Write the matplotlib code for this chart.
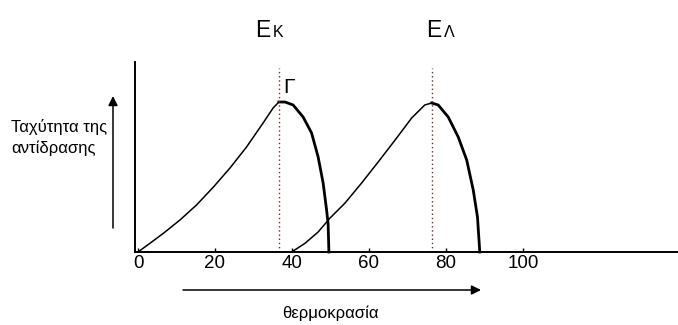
import matplotlib
matplotlib.use('Agg')
import matplotlib.pyplot as plt

plt.rcParams['font.family'] = ['Liberation Sans', 'DejaVu Sans']

# ρυθμός αντίδρασης για τα δύο ένζυμα (Κ και Λ)
temp_k = [0, 3.1, 6.6, 10.9, 15.2, 19.6, 23.9, 28.2, 32.5, 35.1, 36.6, 38.2,
          40.3, 42.9, 45.1, 46.8, 48.1, 49.0, 49.4, 49.6]
rate_k = [0, 8.7, 18.7, 32, 47, 65, 84, 105, 129, 144, 150, 150,
          147, 135, 119, 95, 69, 42, 28, 0]
temp_l = [39.9, 43.4, 46.8, 49.9, 53.8, 58.1, 62.4, 66.8, 71.1, 74.5, 76.3,
          78.0, 80.6, 83.2, 85.4, 87.1, 88.2, 88.8]
rate_l = [0, 8.7, 20, 34, 49, 69, 90, 112, 134, 147, 149,
          147, 135, 115, 92, 62, 35, 0]
peak_k = 36.6
peak_l = 76.5
xticks = [0, 20, 40, 60, 80, 100]

W, H = 678, 325
fig = plt.figure(figsize=(W / 100, H / 100), dpi=100)
ax = fig.add_axes([135 / W, (H - 252) / H, (W - 135) / W, 190 / H])
ax.set_xlim(-0.78, 140.3)
ax.set_ylim(0, 190)

for s in ['top', 'right']:
    ax.spines[s].set_visible(False)
ax.spines['left'].set_linewidth(1.4)
ax.spines['bottom'].set_linewidth(1.4)
ax.set_yticks([])
ax.set_xticks(xticks)
ax.set_xticklabels([str(t) for t in xticks], fontsize=13.5)
ax.tick_params(axis='x', direction='in', length=3, width=1, pad=2)

def draw_curve(t, r, peak):
    i = r.index(max(r))
    ax.plot(t[:i + 1], r[:i + 1], color='black', lw=1.1, clip_on=False,
            solid_joinstyle='round')
    ax.plot(t[i:], r[i:], color='black', lw=2.0, clip_on=False,
            solid_joinstyle='round')
    ax.plot([peak, peak], [0, 184], color='#6b3030', lw=1.0, ls=(0, (1, 2)))

draw_curve(temp_k, rate_k, peak_k)
draw_curve(temp_l, rate_l, peak_l)

def px(x, y):
    return x / W, 1 - y / H

# ετικέτες πάνω από τις κορυφές
fig.text(*px(255, 37), 'E', fontsize=16.5, ha='left', va='baseline')
fig.text(*px(273, 37), 'Κ', fontsize=11.5, ha='left', va='baseline')
fig.text(*px(426, 37), 'E', fontsize=16.5, ha='left', va='baseline')
fig.text(*px(444, 37), 'Λ', fontsize=11.5, ha='left', va='baseline')
fig.text(*px(283, 93), 'Γ', fontsize=15, ha='left', va='baseline')

# άξονας y: βέλος και τίτλος
ax.annotate('', xy=px(113, 96), xytext=px(113, 228), xycoords='figure fraction',
            arrowprops=dict(arrowstyle='-|>', color='black', lw=1.1,
                            mutation_scale=14, shrinkA=0, shrinkB=0))
fig.text(*px(11, 132), 'Ταχύτητα της', fontsize=12, ha='left', va='baseline')
fig.text(*px(11, 153), 'αντίδρασης', fontsize=12, ha='left', va='baseline')

# άξονας x: βέλος και τίτλος
ax.annotate('', xy=px(481, 290), xytext=px(183, 290), xycoords='figure fraction',
            arrowprops=dict(arrowstyle='-|>', color='black', lw=1.1,
                            mutation_scale=14, shrinkA=0, shrinkB=0))
fig.text(*px(330, 318), 'θερμοκρασία', fontsize=12, ha='center', va='baseline')

fig.savefig('out.png', dpi=100)
